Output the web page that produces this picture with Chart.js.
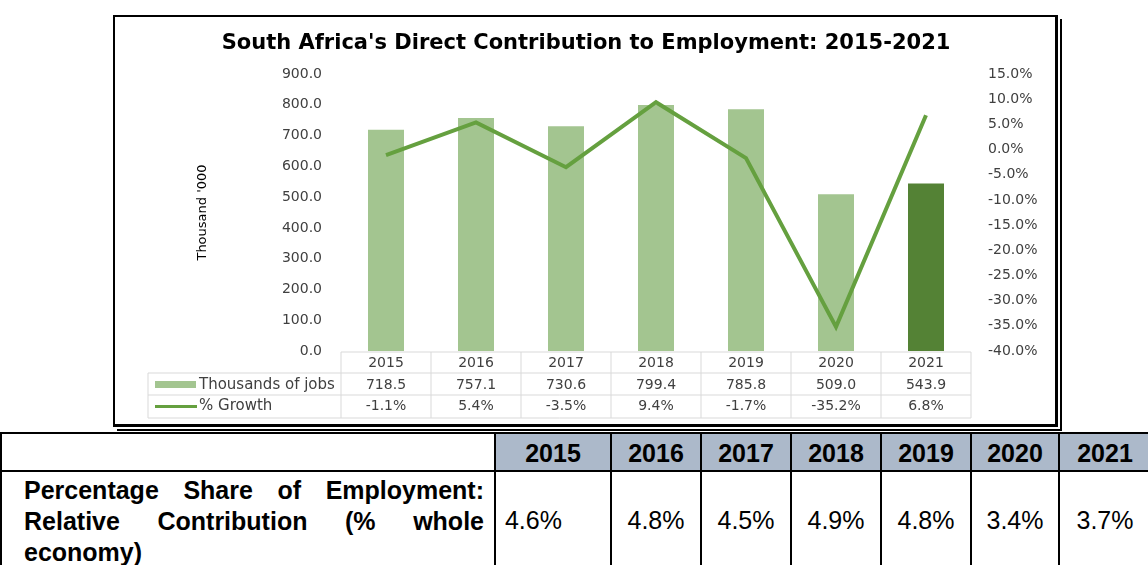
<!DOCTYPE html>
<html>
<head>
<meta charset="utf-8">
<script src="https://cdn.jsdelivr.net/npm/chart.js@4"></script>
<style>
  body { margin: 0; background: #fff; width: 1148px; height: 565px; overflow: hidden; position: relative; }
  .chart-box {
    position: absolute; left: 113px; top: 15px; width: 940px; height: 407px;
    border: 2px solid #000; border-right-width: 3px; border-bottom-width: 3px;
    box-shadow: 2px 2px 0 0 #fff, 4px 4px 0 0 #000;
  }
  .chart-box canvas { display: block; }
  table.share {
    position: absolute; left: 0; top: 432px; width: 1150px;
    border-collapse: collapse; font-family: "Liberation Sans", Arial, sans-serif;
    font-size: 25px; color: #000; table-layout: fixed;
  }
  table.share td { border: 2px solid #000; padding: 0; }
  table.share tr.head td { height: 34px; background: #acb9ca; font-weight: bold; text-align: center; padding-top: 2px; }
  table.share tr.head td.blank { background: #fff; }
  table.share tr.body td { height: 100px; vertical-align: top; text-align: center; padding-top: 34px; }
  table.share tr.body td.label {
    font-weight: bold; text-align: justify; padding: 3px 10px 0 22px; line-height: 31px;
  }
  table.share tr.body td.first { text-align: left; padding-left: 2px; }
</style>
</head>
<body>
<div class="chart-box"><canvas id="jobs" width="940" height="407"></canvas></div>
<table class="share" id="share"></table>
<script>
const years = ['2015', '2016', '2017', '2018', '2019', '2020', '2021'];
const jobs = [718.5, 757.1, 730.6, 799.4, 785.8, 509.0, 543.9];
const growth = [-1.1, 5.4, -3.5, 9.4, -1.7, -35.2, 6.8];
const shareOfEmployment = [4.6, 4.8, 4.5, 4.9, 4.8, 3.4, 3.7];
const shareLabel = 'Percentage Share of Employment: Relative Contribution (% whole economy)';

const barGreen = '#a3c590';
const darkGreen = '#548235';
const lineGreen = '#65a03f';
const textColor = '#404040';
const font = 'DejaVu Sans';

// table under the plot, lined up with the category scale
const dataTable = {
  id: 'dataTable',
  afterDraw(chart) {
    const c = chart.ctx;
    const x = chart.scales.x;
    const area = chart.chartArea;
    const half = (x.getPixelForValue(1) - x.getPixelForValue(0)) / 2;
    const left = 33;
    const rows = [area.bottom + 1, area.bottom + 22, area.bottom + 44, area.bottom + 67];
    const colEdge = years.map((_, i) => x.getPixelForValue(i) - half);
    colEdge.push(x.getPixelForValue(years.length - 1) + half);

    c.save();
    c.strokeStyle = '#d9d9d9';
    c.lineWidth = 1;
    c.beginPath();
    c.moveTo(colEdge[0], rows[0]); c.lineTo(colEdge[7], rows[0]);
    for (let r = 1; r < rows.length; r++) {
      c.moveTo(left, rows[r]); c.lineTo(colEdge[7], rows[r]);
    }
    colEdge.forEach(e => { c.moveTo(e, rows[0]); c.lineTo(e, rows[3]); });
    c.moveTo(left, rows[1]); c.lineTo(left, rows[3]);
    c.stroke();

    c.fillStyle = textColor;
    c.font = '14px "' + font + '"';
    c.textAlign = 'center';
    c.textBaseline = 'middle';
    years.forEach((y, i) => {
      const cx = x.getPixelForValue(i);
      c.fillText(y, cx, (rows[0] + rows[1]) / 2 + 1);
      c.fillText(jobs[i].toFixed(1), cx, (rows[1] + rows[2]) / 2 + 1);
      c.fillText(growth[i].toFixed(1) + '%', cx, (rows[2] + rows[3]) / 2);
    });

    // legend keys
    c.textAlign = 'left';
    c.fillStyle = barGreen;
    c.fillRect(left + 7, (rows[1] + rows[2]) / 2 - 3, 41, 7);
    c.strokeStyle = lineGreen;
    c.lineWidth = 3;
    c.beginPath();
    c.moveTo(left + 7, (rows[2] + rows[3]) / 2);
    c.lineTo(left + 49, (rows[2] + rows[3]) / 2);
    c.stroke();
    c.fillStyle = textColor;
    c.font = '15px "' + font + '"';
    c.fillText('Thousands of jobs', left + 51, (rows[1] + rows[2]) / 2 + 1);
    c.fillText('% Growth', left + 51, (rows[2] + rows[3]) / 2);
    c.restore();
  }
};

new Chart(document.getElementById('jobs'), {
  type: 'bar',
  data: {
    labels: years,
    datasets: [{
      type: 'line',
      label: '% Growth',
      data: growth,
      yAxisID: 'y1',
      borderColor: lineGreen,
      borderWidth: 4,
      pointRadius: 0,
      tension: 0,
      order: 0
    }, {
      label: 'Thousands of jobs',
      data: jobs,
      yAxisID: 'y',
      backgroundColor: jobs.map((_, i) => i === jobs.length - 1 ? darkGreen : barGreen),
      categoryPercentage: 1,
      barPercentage: 0.4,
      order: 1
    }]
  },
  options: {
    responsive: false,
    animation: false,
    layout: { padding: { top: 57, bottom: 73, left: 0, right: 0 } },
    scales: {
      x: { display: false, offset: true },
      y: {
        position: 'left',
        min: 0,
        max: 900,
        grid: { display: false, drawTicks: false },
        border: { display: false },
        ticks: {
          stepSize: 100,
          padding: 19,
          color: textColor,
          font: { family: font, size: 14 },
          callback: v => v.toFixed(1)
        },
        title: {
          display: true,
          text: "Thousand '000",
          color: '#000',
          font: { family: font, size: 13 },
          padding: { top: 80, bottom: 0 }
        },
        afterFit: s => { s.width = 226; }
      },
      y1: {
        position: 'right',
        min: -40,
        max: 15,
        grid: { display: false, drawTicks: false },
        border: { display: false },
        ticks: {
          stepSize: 5,
          padding: 17,
          color: textColor,
          font: { family: font, size: 14 },
          callback: v => v.toFixed(1) + '%'
        },
        afterFit: s => { s.width = 84; }
      }
    },
    plugins: {
      legend: { display: false },
      tooltip: { enabled: false },
      title: {
        display: false,
        text: "South Africa's Direct Contribution to Employment: 2015-2021"
      }
    }
  },
  plugins: [dataTable, {
    id: 'titleSpot',
    // title sits inside the top padding instead of pushing the plot down
    afterDraw(chart) {
      const c = chart.ctx;
      c.save();
      c.fillStyle = '#000';
      c.font = 'bold 21px "' + font + '"';
      c.textAlign = 'center';
      c.textBaseline = 'middle';
      c.fillText(chart.options.plugins.title.text, 471, 27);
      c.restore();
    }
  }]
});

// share-of-employment table below the chart
const share = document.getElementById('share');
const cols = [494, 116, 90, 90, 90, 90, 88, 92];
const colgroup = document.createElement('colgroup');
cols.forEach(w => { const col = document.createElement('col'); col.style.width = w + 'px'; colgroup.appendChild(col); });
share.appendChild(colgroup);
const head = share.insertRow();
head.className = 'head';
const blank = head.insertCell();
blank.className = 'blank';
years.forEach(y => { head.insertCell().textContent = y; });
const body = share.insertRow();
body.className = 'body';
const label = body.insertCell();
label.className = 'label';
label.textContent = shareLabel;
shareOfEmployment.forEach((v, i) => {
  const td = body.insertCell();
  if (i === 0) td.className = 'first';
  td.innerHTML = (i === 0 ? '&nbsp;' : '') + v.toFixed(1) + '%';
});
</script>
</body>
</html>
